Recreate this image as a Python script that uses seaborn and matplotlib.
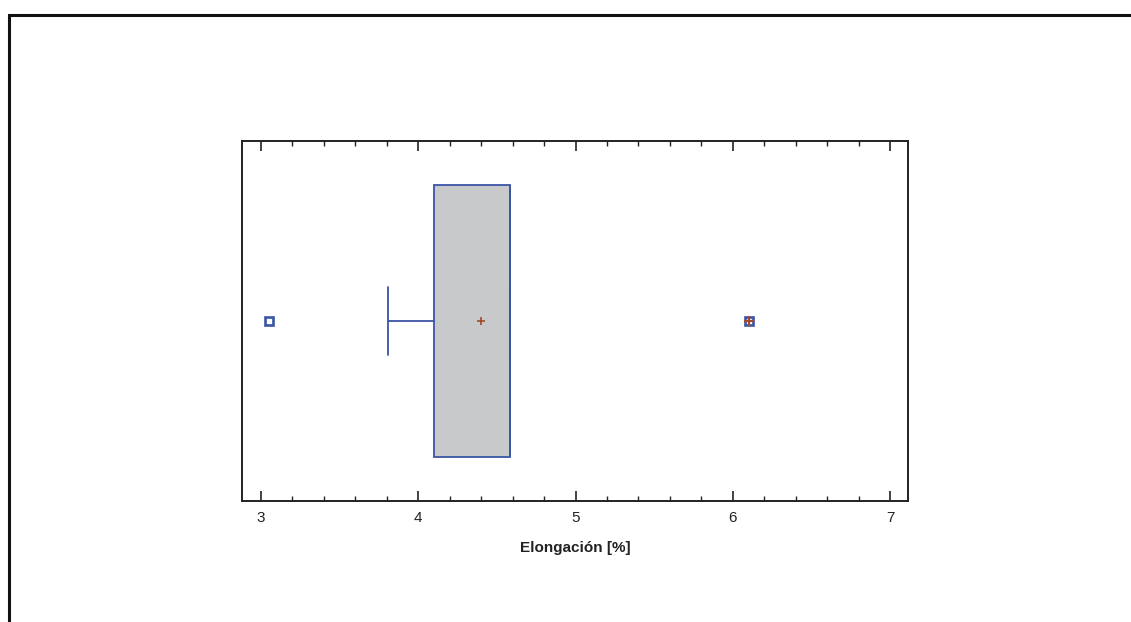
import numpy as np
import pandas as pd
import matplotlib
matplotlib.use("Agg")
import matplotlib.pyplot as plt
import seaborn as sns
from matplotlib.patches import Rectangle
from matplotlib.ticker import MultipleLocator

# Elongation measurements [%]
elongacion = [3.05, 3.81, 4.10, 4.22, 4.58, 4.58, 4.58, 4.58, 6.10]
x_ticks = [3, 4, 5, 6, 7]
x_label = "Elongación [%]"

df = pd.DataFrame({"elongacion": elongacion})

sns.set_theme(style="white")
plt.rcParams["font.family"] = ["Liberation Sans", "DejaVu Sans"]

blue = "#3b55a5"
brown = "#a04a2a"
fill = "#c8c9cb"

fig = plt.figure(figsize=(11.31, 6.22), dpi=100)
ax = fig.add_axes([242 / 1131, 1 - 501 / 622, 666 / 1131, 360 / 622])

sns.boxplot(
    data=df, x="elongacion", orient="h", ax=ax,
    width=0.756, color=fill, linecolor=blue, linewidth=1.3,
    showmeans=True,
    meanprops=dict(marker="+", markeredgecolor=brown, markersize=6, markeredgewidth=1.2),
    flierprops=dict(marker="s", markerfacecolor="white", markeredgecolor=blue,
                    markersize=5.5, markeredgewidth=1.9),
    medianprops=dict(color=blue, linewidth=1.3),
    capwidths=0.19,
)

# Far outliers (beyond 3 IQR) get an extra plus sign
vals = np.asarray(elongacion)
q1, q3 = np.percentile(vals, [25, 75])
iqr = q3 - q1
far = vals[(vals < q1 - 3 * iqr) | (vals > q3 + 3 * iqr)]
ax.plot(far, np.zeros_like(far), linestyle="none", marker="+",
        markeredgecolor=brown, markersize=7.5, markeredgewidth=1.6, zorder=5)

ax.set_xlim(2.879, 7.114)
ax.set_ylim(0.5, -0.5)
ax.set_xticks(x_ticks)
ax.set_xticklabels([str(t) for t in x_ticks])
ax.xaxis.set_minor_locator(MultipleLocator(0.2))
ax.tick_params(axis="x", which="major", direction="in", length=7, width=1.2,
               color="#222222", top=True, bottom=True, labelsize=11,
               labelcolor="#222222", pad=7)
ax.tick_params(axis="x", which="minor", direction="in", length=3.5, width=1.0,
               color="#222222", top=True, bottom=True)
ax.set_yticks([])
ax.set_ylabel("")
ax.set_xlabel(x_label, fontsize=11, fontweight="bold", color="#222222", labelpad=12)
for s in ax.spines.values():
    s.set_color("#222222")
    s.set_linewidth(1.4)
    s.set_visible(True)

# Outer frame of the figure panel
fig.patches.append(Rectangle((8.5 / 1131, -0.1), 1.2, 1 - 14.5 / 622 + 0.1,
                             transform=fig.transFigure, fill=False,
                             edgecolor="#111111", linewidth=2.2))

fig.savefig("out.png", dpi=100)
